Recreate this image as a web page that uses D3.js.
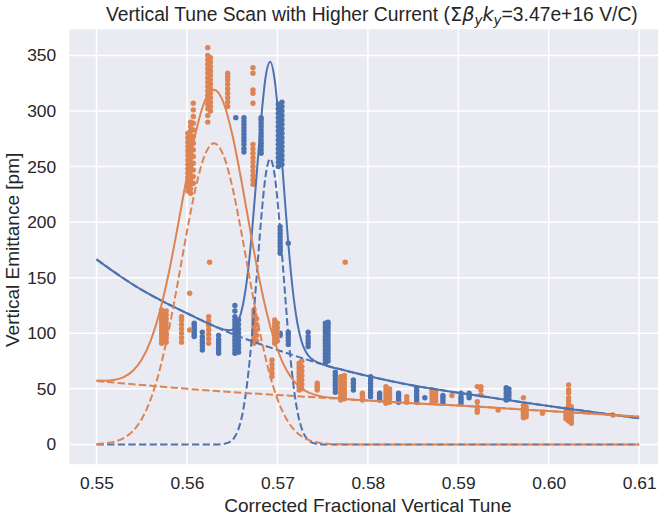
<!DOCTYPE html>
<html>
<head>
<meta charset="utf-8">
<script src="https://cdn.jsdelivr.net/npm/d3@7"></script>
<style>
body { margin: 0; background: #ffffff; }
text { font-family: "Liberation Sans", Arial, sans-serif; fill: #262626; }
</style>
</head>
<body>
<div class="chart"></div>
<script>
// tick labels
var xTicks = [0.55, 0.56, 0.57, 0.58, 0.59, 0.60, 0.61];
var yTicks = [0, 50, 100, 150, 200, 250, 300, 350];

// fitted background (dashed, slowly decaying part)
var backgroundTune = [0.550, 0.555, 0.560, 0.565, 0.570, 0.575, 0.580, 0.585, 0.590, 0.595, 0.600, 0.605, 0.610];
var blueBackground = [166.5, 139, 118, 99.5, 85, 72, 61.5, 53, 46.5, 40.5, 34.5, 29, 23.5];
var orangeBackground = [57, 53.5, 50, 47, 44.5, 42, 39.5, 37, 35, 32.5, 30, 27.5, 25];

// fitted resonance peak (dashed)
var bluePeakTune = [0.550, 0.5632, 0.5637, 0.5642, 0.5647, 0.5652, 0.5657, 0.5662, 0.5667, 0.5672, 0.5677,
  0.5682, 0.5687, 0.5692, 0.5697, 0.5702, 0.5707, 0.5712, 0.5717, 0.5722, 0.5727, 0.5732, 0.5737,
  0.5742, 0.5747, 0.5752, 0.610];
var bluePeak = [0, 0, 0.2, 0.7, 2.1, 5.7, 14.0, 30.2, 58.1, 99.2, 150.6, 202.5, 242.1, 257, 242.1, 202.5,
  150.6, 99.2, 58.1, 30.2, 14.0, 5.7, 2.1, 0.7, 0.2, 0, 0];

var orangePeakTune = [0.550, 0.551, 0.552, 0.553, 0.554, 0.555, 0.556, 0.557, 0.558, 0.559, 0.560, 0.561,
  0.562, 0.563, 0.564, 0.565, 0.566, 0.567, 0.568, 0.569, 0.570, 0.571, 0.572, 0.573, 0.574, 0.575,
  0.576, 0.577, 0.580, 0.610];
var orangePeak = [0.4, 1.0, 2.5, 5.7, 11.9, 22.9, 40.9, 67.6, 103.3, 146.3, 191.6, 232.3, 260.8, 271,
  260.8, 232.3, 191.6, 146.3, 103.3, 67.6, 40.9, 22.9, 11.9, 5.7, 2.5, 1.0, 0.4, 0.1, 0, 0];

// full fit (solid)
var blueTotalTune = [0.550, 0.5525, 0.555, 0.5575, 0.560, 0.5632, 0.5637, 0.5642, 0.5647, 0.5652, 0.5657,
  0.5662, 0.5667, 0.5672, 0.5677, 0.5682, 0.5687, 0.5692, 0.5697, 0.5702, 0.5707, 0.5712, 0.5717,
  0.5722, 0.5727, 0.5732, 0.5737, 0.5742, 0.5747, 0.5752, 0.5775, 0.580, 0.585, 0.590, 0.595, 0.600,
  0.605, 0.610];
var blueTotal = [166.5, 152, 139, 128, 118, 105.8, 104.3, 103.1, 102.7, 104.6, 111.4, 126.1, 152.5, 192.1,
  242.1, 292.6, 330.8, 344.3, 328.0, 287.0, 233.8, 181.1, 138.7, 109.5, 92.0, 82.4, 77.5, 74.8, 73.0,
  71.5, 66.5, 61.5, 53, 46.5, 40.5, 34.5, 29, 23.5];

var orangeTotalTune = [0.550, 0.551, 0.552, 0.553, 0.554, 0.555, 0.556, 0.557, 0.558, 0.559, 0.560, 0.561,
  0.562, 0.563, 0.564, 0.565, 0.566, 0.567, 0.568, 0.569, 0.570, 0.571, 0.572, 0.573, 0.574, 0.575,
  0.576, 0.577, 0.580, 0.585, 0.590, 0.595, 0.600, 0.605, 0.610];
var orangeTotal = [57.4, 57.3, 58.1, 60.6, 66.1, 76.4, 93.7, 119.7, 154.7, 197.0, 241.6, 281.7, 309.6,
  319.2, 308.4, 279.3, 238.1, 192.3, 148.8, 112.6, 85.4, 66.9, 55.4, 48.7, 45.0, 43.0, 41.9, 41.1,
  39.5, 37, 35, 32.5, 30, 27.5, 25];

// measured points: [tune, [emittances]]
var blueClusters = [
  [0.5608, [97, 99, 101, 103, 105, 107, 109]],
  [0.5617, [85, 88, 91, 94, 97, 101]],
  [0.5635, [82, 84.5, 87, 89.5, 92, 94.5, 98]],
  [0.5653, [82, 85, 88, 91, 94, 97, 100, 103, 106, 109, 112, 115, 120, 125]],
  [0.5657, [83, 86.5, 90, 93.5, 97, 100.5, 104, 108, 112]],
  [0.5654, [294]],
  [0.5663, [263, 266, 270, 273, 276, 279, 282, 285, 288, 291, 294]],
  [0.5682, [262, 265, 268, 271, 274, 277, 280, 283, 286, 289, 292, 294]],
  [0.5701, [250, 254, 258, 262, 266, 270, 274, 278, 282, 286, 290, 294, 298, 302, 306]],
  [0.5705, [252, 256, 260, 264, 268, 272, 276, 280, 284, 288, 292, 296, 300, 304, 308]],
  [0.5703, [172, 175, 178, 181, 184, 187, 190, 193, 196, 100, 98]],
  [0.5712, [90, 93, 96, 99, 101, 181]],
  [0.5734, [88, 91, 94, 97, 101]],
  [0.5753, [73, 76, 79, 82, 85, 88, 91, 94, 97, 100, 103, 106, 109]],
  [0.5756, [75, 78, 81, 84, 87, 90, 93, 96, 99, 102, 105, 108, 110]],
  [0.5764, [47, 50, 53, 56, 59, 62, 65]],
  [0.5784, [49, 52, 55, 58]],
  [0.5803, [43, 46, 49, 52, 55, 58, 61]],
  [0.5813, [40, 42, 44, 46]],
  [0.5834, [38, 40, 42, 44, 46]],
  [0.5854, [38, 40.5, 43, 45.5, 48, 51]],
  [0.5863, [42]],
  [0.5883, [37, 39.5, 42, 44]],
  [0.5903, [37, 39, 41, 43, 46]],
  [0.5912, [42, 44, 46]],
  [0.5953, [40, 43, 46, 49, 51]],
  [0.5956, [41, 44, 47, 50]]
];

var orangeClusters = [
  [0.5572, [91, 94, 97, 100, 103, 106, 109, 112, 115, 118, 121]],
  [0.5577, [92, 95.5, 99, 102.5, 106, 109.5, 113, 116.5, 120]],
  [0.5575, [93, 98, 104, 110, 114, 119]],
  [0.5594, [92, 96, 100, 104, 108, 112, 115]],
  [0.5601, [228, 232, 236, 240, 244, 248, 252, 256, 260, 264, 268, 272, 276, 280]],
  [0.5604, [226, 230, 234, 238, 242, 246, 250, 254, 258, 262, 266, 270, 274, 278, 282, 286, 290]],
  [0.5607, [235, 241, 247, 253, 259, 265, 271, 277, 283, 289, 295, 301, 307]],
  [0.5603, [136, 103]],
  [0.5623, [290, 296, 302, 306, 310, 314, 318, 322, 326, 330, 334, 338, 342, 346, 350, 357]],
  [0.5626, [300, 304, 308, 312, 316, 320, 324, 328, 332, 336, 340, 344, 348]],
  [0.5624, [91, 95, 99, 103, 107, 111, 115]],
  [0.5625, [164]],
  [0.5645, [304, 308, 312, 316, 320, 324, 328, 331, 334]],
  [0.5673, [307, 316, 319, 334, 339]],
  [0.5673, [234, 238, 242, 246, 250, 254, 258, 262, 266, 270]],
  [0.5674, [91, 94, 97, 100, 103, 106, 109, 112, 115, 118, 121]],
  [0.5677, [93, 98, 103, 108, 113]],
  [0.5697, [91, 94, 97, 100, 103, 106, 109, 112]],
  [0.5700, [93, 97, 101, 105, 109]],
  [0.5694, [61, 64, 68, 72, 76]],
  [0.5724, [49, 52, 55, 58, 61, 64, 67, 70, 73]],
  [0.5727, [50, 54, 58, 62, 66, 70, 75]],
  [0.5775, [164]],
  [0.5744, [49, 51, 53, 55]],
  [0.5770, [40, 43, 46, 49, 52, 55, 58, 61]],
  [0.5774, [41, 44, 47, 50, 53, 56, 59, 62]],
  [0.5794, [40, 42, 44, 46]],
  [0.5820, [37, 40, 43, 46, 49, 52]],
  [0.5824, [38, 41, 44, 47, 50]],
  [0.5843, [38, 40, 43]],
  [0.5871, [38, 41, 44, 47, 49]],
  [0.5875, [39, 42, 45, 48]],
  [0.5893, [44]],
  [0.5921, [52, 38.5, 34, 31, 29]],
  [0.5925, [52, 49, 44.5]],
  [0.5944, [31]],
  [0.5972, [42, 35, 32, 30, 28, 26, 24]],
  [0.5975, [34, 31, 29, 27, 25]],
  [0.5993, [28]],
  [0.6022, [53.5, 49, 46.5, 42, 39, 36, 33, 30, 27, 24, 21]],
  [0.6025, [34, 31, 28, 25, 22, 19]],
  [0.6019, [32, 29, 26, 23]],
  [0.6071, [26.5]]
];

var blue = "#4c72b0", orange = "#dd8452";

///////////////////////////////////////////

var width = 658;
var height = 518;
var plotLeft = 69.4, plotRight = 666.3, plotTop = 29.3, plotBottom = 464.2;

var x = d3.scaleLinear().domain([0.547, 0.613]).range([plotLeft, plotRight]);
var y = d3.scaleLinear().domain([-17.8, 373.5]).range([plotBottom, plotTop]);

var svg = d3.select(".chart").append("svg")
    .attr("width", width)
    .attr("height", height);

svg.append("rect")
    .attr("x", plotLeft)
    .attr("y", plotTop)
    .attr("width", plotRight - plotLeft)
    .attr("height", plotBottom - plotTop)
    .attr("fill", "#eaeaf2");

// grid
svg.append("g").selectAll("line")
    .data(xTicks)
  .enter().append("line")
    .attr("x1", function(d){ return x(d); })
    .attr("x2", function(d){ return x(d); })
    .attr("y1", plotTop)
    .attr("y2", plotBottom)
    .attr("stroke", "#ffffff")
    .attr("stroke-width", 1.5);

svg.append("g").selectAll("line")
    .data(yTicks)
  .enter().append("line")
    .attr("x1", plotLeft)
    .attr("x2", plotRight)
    .attr("y1", function(d){ return y(d); })
    .attr("y2", function(d){ return y(d); })
    .attr("stroke", "#ffffff")
    .attr("stroke-width", 1.5);

// axes (labels only)
var xAxis = svg.append("g")
    .attr("transform", "translate(0," + plotBottom + ")")
    .call(d3.axisBottom(x).tickValues(xTicks).tickSize(0).tickPadding(12.3).tickFormat(d3.format(".2f")));
var yAxis = svg.append("g")
    .attr("transform", "translate(" + plotLeft + ",0)")
    .call(d3.axisLeft(y).tickValues(yTicks).tickSize(0).tickPadding(13.2).tickFormat(d3.format("d")));
[xAxis, yAxis].forEach(function(g){
  g.select(".domain").remove();
  g.attr("font-family", null).attr("font-size", null);
  g.selectAll("text").style("font-size", "17.4px").attr("fill", "#262626");
});

// scatter
function points(clusters){
  var out = [];
  clusters.forEach(function(c){
    c[1].forEach(function(e){ out.push([c[0], e]); });
  });
  return out;
}

svg.append("g").selectAll("circle")
    .data(points(blueClusters))
  .enter().append("circle")
    .attr("cx", function(d){ return x(d[0]); })
    .attr("cy", function(d){ return y(d[1]); })
    .attr("r", 2.7)
    .attr("fill", blue);

svg.append("g").selectAll("circle")
    .data(points(orangeClusters))
  .enter().append("circle")
    .attr("cx", function(d){ return x(d[0]); })
    .attr("cy", function(d){ return y(d[1]); })
    .attr("r", 2.7)
    .attr("fill", orange);

// fitted curves
var line = d3.line()
    .x(function(d){ return x(d[0]); })
    .y(function(d){ return y(d[1]); })
    .curve(d3.curveMonotoneX);

function drawCurve(tune, vals, color, dashed){
  svg.append("path")
      .datum(tune.map(function(t, i){ return [t, vals[i]]; }))
      .attr("d", line)
      .attr("fill", "none")
      .attr("stroke", color)
      .attr("stroke-width", 2)
      .attr("stroke-dasharray", dashed ? "7.4,3.2" : null);
}

drawCurve(blueTotalTune, blueTotal, blue, false);
drawCurve(backgroundTune, blueBackground, blue, true);
drawCurve(bluePeakTune, bluePeak, blue, true);
drawCurve(orangeTotalTune, orangeTotal, orange, false);
drawCurve(backgroundTune, orangeBackground, orange, true);
drawCurve(orangePeakTune, orangePeak, orange, true);

// labels
var midX = (plotLeft + plotRight) / 2;

svg.append("text")
    .attr("x", midX)
    .attr("y", 511.5)
    .attr("text-anchor", "middle")
    .style("font-size", "19px")
    .text("Corrected Fractional Vertical Tune");

svg.append("text")
    .attr("transform", "translate(19," + y(175) + ") rotate(-90)")
    .attr("text-anchor", "middle")
    .style("font-size", "19px")
    .text("Vertical Emittance [pm]");

var title = svg.append("text")
    .attr("x", midX + 4)
    .attr("y", 20.7)
    .attr("text-anchor", "middle")
    .style("font-size", "19.3px");
title.append("tspan").text("Vertical Tune Scan with Higher Current (");
title.append("tspan").style("font-family", "DejaVu Sans").text("\u03A3");
title.append("tspan").style("font-family", "DejaVu Sans").style("font-style", "italic").text("\u03B2");
title.append("tspan").attr("dy", 4).style("font-family", "DejaVu Sans").style("font-style", "italic").style("font-size", "13.5px").text("y");
title.append("tspan").attr("dy", -4).style("font-family", "DejaVu Sans").style("font-style", "italic").text("k");
title.append("tspan").attr("dy", 4).style("font-family", "DejaVu Sans").style("font-style", "italic").style("font-size", "13.5px").text("y");
title.append("tspan").attr("dy", -4).text("=3.47e+16 V/C)");
</script>
</body>
</html>
